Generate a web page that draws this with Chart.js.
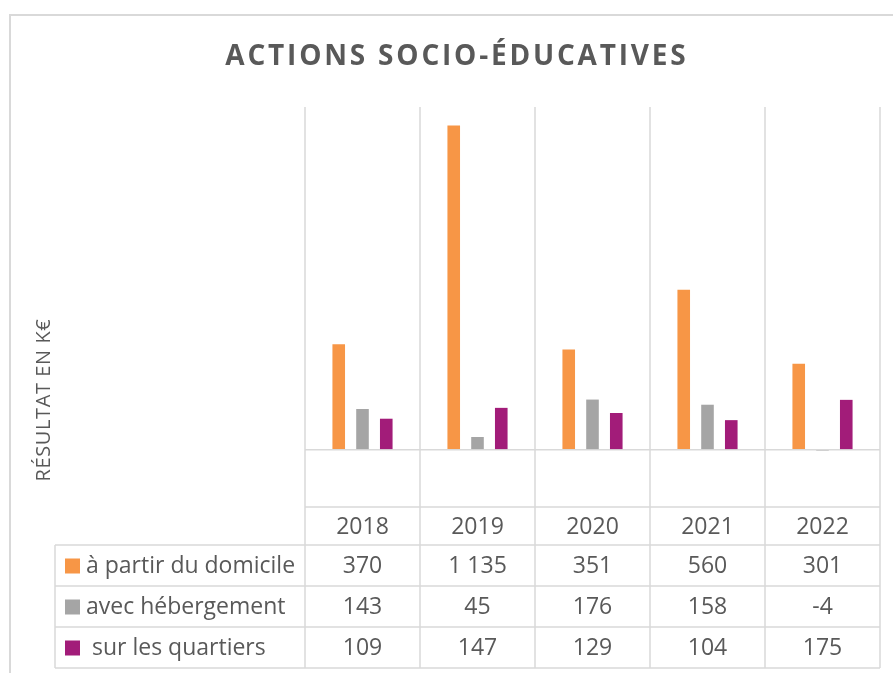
<!DOCTYPE html>
<html>
<head>
<meta charset="utf-8">
<script src="https://cdn.jsdelivr.net/npm/chart.js@4"></script>
<style>
  html, body { margin: 0; padding: 0; background: #fff; }
  #wrap { width: 893px; height: 673px; }
</style>
</head>
<body>
<div id="wrap"><canvas id="graficoActions" width="893" height="673"></canvas></div>
<script>
// données
var annees = ['2018', '2019', '2020', '2021', '2022'];
var domicile = [370, 1135, 351, 560, 301];
var hebergement = [143, 45, 176, 158, -4];
var quartiers = [109, 147, 129, 104, 175];
var nomsSeries = ['à partir du domicile', 'avec hébergement', ' sur les quartiers'];
var couleurs = ['#F79646', '#A5A5A5', '#A21C79'];
var titre = 'ACTIONS SOCIO-ÉDUCATIVES';
var titreAxe = 'RÉSULTAT EN K€';

var gris = '#595959';
var ligne = '#d9d9d9';
var police = '"Open Sans", sans-serif';

function fmt(v) {
    return String(v).replace(/\B(?=(\d{3})+(?!\d))/g, ' ');
}

// tableau de données + titres dessinés sous le graphique
var tableauPlugin = {
    id: 'tableau',
    beforeDatasetsDraw: function (chart) {
        var ctx = chart.ctx;
        var area = chart.chartArea;
        var x = chart.scales.x;
        var n = annees.length;
        var pas = (x.getPixelForValue(1) - x.getPixelForValue(0));
        var hautLigne = area.bottom;
        var rangs = [hautLigne, hautLigne + 38, hautLigne + 79, hautLigne + 120, hautLigne + 161];
        var gauche = 55;

        ctx.save();
        // cadre extérieur
        ctx.strokeStyle = ligne;
        ctx.lineWidth = 2;
        ctx.beginPath();
        ctx.moveTo(10, 700);
        ctx.lineTo(10, 15);
        ctx.lineTo(900, 15);
        ctx.stroke();

        // lignes verticales
        ctx.lineWidth = 1.5;
        for (var i = 0; i <= n; i++) {
            var px = x.getPixelForValue(i) - pas / 2;
            ctx.beginPath();
            ctx.moveTo(px, area.top);
            ctx.lineTo(px, rangs[4]);
            ctx.stroke();
        }
        // lignes horizontales du tableau
        var droite = x.getPixelForValue(n - 1) + pas / 2;
        ctx.beginPath();
        ctx.moveTo(area.left, rangs[0]);
        ctx.lineTo(droite, rangs[0]);
        for (var r = 1; r < rangs.length; r++) {
            ctx.moveTo(gauche, rangs[r]);
            ctx.lineTo(droite, rangs[r]);
        }
        ctx.moveTo(gauche, rangs[1]);
        ctx.lineTo(gauche, rangs[4]);
        ctx.stroke();

        // textes
        ctx.fillStyle = gris;
        ctx.font = '23px ' + police;
        ctx.textBaseline = 'middle';
        ctx.textAlign = 'center';
        var series = [domicile, hebergement, quartiers];
        for (var c = 0; c < n; c++) {
            var cx = x.getPixelForValue(c);
            ctx.fillText(annees[c], cx, (rangs[0] + rangs[1]) / 2 + 1);
            for (var s = 0; s < series.length; s++) {
                ctx.fillText(fmt(series[s][c]), cx, (rangs[s + 1] + rangs[s + 2]) / 2 + 1);
            }
        }
        ctx.textAlign = 'left';
        for (var k = 0; k < nomsSeries.length; k++) {
            var cy = (rangs[k + 1] + rangs[k + 2]) / 2;
            ctx.fillStyle = couleurs[k];
            ctx.fillRect(65, cy - 7, 15, 15);
            ctx.fillStyle = gris;
            ctx.fillText(nomsSeries[k], 86, cy + 1);
        }

        // titre
        ctx.font = 'bold 28px ' + police;
        ctx.letterSpacing = '2.8px';
        var w = ctx.measureText(titre).width - 2.8;
        ctx.textBaseline = 'alphabetic';
        ctx.fillText(titre, 455.5 - w / 2, 65);

        // titre de l'axe
        ctx.font = '20px ' + police;
        ctx.letterSpacing = '0.6px';
        ctx.translate(50, 400);
        ctx.rotate(-Math.PI / 2);
        ctx.textAlign = 'center';
        ctx.fillText(titreAxe, 0, 0);
        ctx.restore();
    }
};

var ctx = document.getElementById('graficoActions').getContext('2d');
var graficoActions = new Chart(ctx, {
    type: 'bar',
    data: {
        labels: annees,
        datasets: [
            { label: nomsSeries[0], data: domicile, backgroundColor: couleurs[0] },
            { label: nomsSeries[1], data: hebergement, backgroundColor: couleurs[1] },
            { label: nomsSeries[2], data: quartiers, backgroundColor: couleurs[2] }
        ]
    },
    options: {
        responsive: false,
        animation: false,
        categoryPercentage: 0.62,
        barPercentage: 0.53,
        layout: {
            padding: { left: 305, right: 13, top: 107, bottom: 166 }
        },
        plugins: {
            legend: { display: false },
            title: { display: false },
            tooltip: { enabled: false }
        },
        scales: {
            x: {
                display: false
            },
            y: {
                display: true,
                min: -200,
                max: 1200,
                ticks: { display: false, stepSize: 200 },
                border: { display: false },
                grid: {
                    drawTicks: false,
                    lineWidth: 1.5,
                    color: function (c) {
                        return c.tick && c.tick.value === 0 ? ligne : 'rgba(0,0,0,0)';
                    }
                }
            }
        }
    },
    plugins: [tableauPlugin]
});
</script>
</body>
</html>
